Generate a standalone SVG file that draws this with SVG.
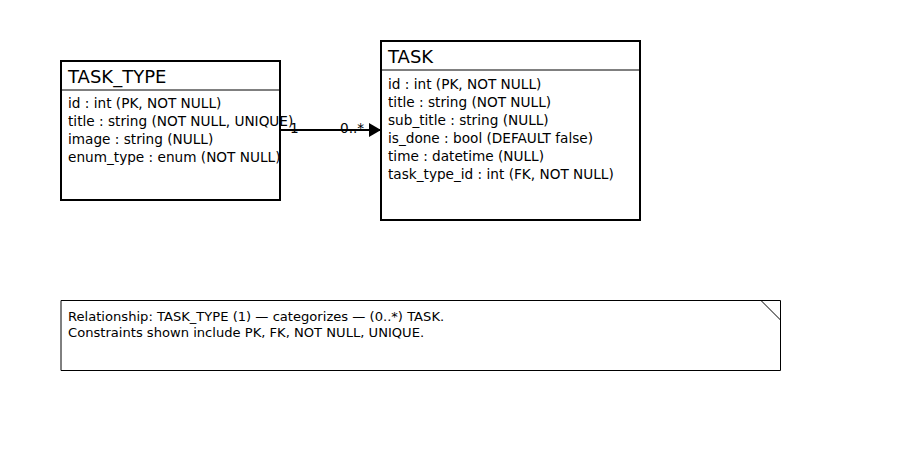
<svg xmlns="http://www.w3.org/2000/svg" width="900" height="450" viewBox="0 0 900 450">
<defs>
<style>
.box{fill:#fff;stroke:#000;stroke-width:2}
.sep{stroke:#000;stroke-width:1}
.title{font-family:"DejaVu Sans",sans-serif;font-size:18px;fill:#000}
.attr{font-family:"DejaVu Sans",sans-serif;font-size:13.65px;fill:#000}
.lbl{font-family:"DejaVu Sans",sans-serif;font-size:13.65px;fill:#000}
.note{fill:#fff;stroke:#000;stroke-width:1}
.ntext{font-family:"DejaVu Sans",sans-serif;font-size:13.1px;fill:#000}
</style>
<marker id="arr" markerWidth="12" markerHeight="14" refX="12" refY="7" orient="auto" markerUnits="userSpaceOnUse">
<path d="M0,0 L12,7 L0,14 Z" fill="#000"/>
</marker>
</defs>
<rect width="900" height="450" fill="#fff"/>
<g id="connectors">
<line x1="280" y1="130" x2="381" y2="130" stroke="#000" stroke-width="2" marker-end="url(#arr)"/>
<text class="lbl" x="290" y="133">1</text>
<text class="lbl" x="340" y="133">0..*</text>
</g>
<g id="task_type">
<rect class="box" x="61" y="61" width="219" height="139"/>
<line class="sep" x1="61" y1="90" x2="280" y2="90"/>
<text class="title" x="68" y="83">TASK_TYPE</text>
<text class="attr" x="68" y="108">id : int (PK, NOT NULL)</text>
<text class="attr" x="68" y="126">title : string (NOT NULL, UNIQUE)</text>
<text class="attr" x="68" y="144">image : string (NULL)</text>
<text class="attr" x="68" y="162">enum_type : enum (NOT NULL)</text>
</g>
<g id="task">
<rect class="box" x="381" y="41" width="259" height="179"/>
<line class="sep" x1="381" y1="70" x2="640" y2="70"/>
<text class="title" x="388" y="63">TASK</text>
<text class="attr" x="388" y="89">id : int (PK, NOT NULL)</text>
<text class="attr" x="388" y="107">title : string (NOT NULL)</text>
<text class="attr" x="388" y="125">sub_title : string (NULL)</text>
<text class="attr" x="388" y="143">is_done : bool (DEFAULT false)</text>
<text class="attr" x="388" y="161">time : datetime (NULL)</text>
<text class="attr" x="388" y="179">task_type_id : int (FK, NOT NULL)</text>
</g>
<g id="note">
<path class="note" d="M61,300.5 H780.5 V370.5 H61 Z"/>
<line x1="761" y1="300.5" x2="780.5" y2="320" stroke="#000" stroke-width="1"/>
<text class="ntext" x="68" y="321">Relationship: TASK_TYPE (1) — categorizes — (0..*) TASK.</text>
<text class="ntext" x="68" y="337">Constraints shown include PK, FK, NOT NULL, UNIQUE.</text>
</g>
</svg>
